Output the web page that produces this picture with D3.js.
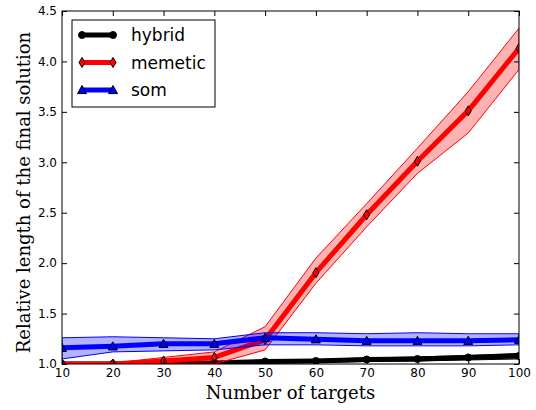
<!DOCTYPE html>
<html>
<head>
<meta charset="utf-8">
<script src="https://cdn.jsdelivr.net/npm/d3@7"></script>
<style>
  html, body { margin: 0; padding: 0; background: #fff; }
  svg { display: block; }
</style>
</head>
<body>
<svg id="chart" width="536" height="410"></svg>
<script>
// Number of targets
const targets = [10, 20, 30, 40, 50, 60, 70, 80, 90, 100];

// Mean relative length per algorithm, with lower / upper band
const hybridMean  = [1.00, 1.00, 1.005, 1.01, 1.025, 1.03, 1.045, 1.05, 1.065, 1.08];
const hybridLow   = [1.00, 1.00, 1.00, 1.00, 1.01, 1.015, 1.025, 1.03, 1.04, 1.05];
const hybridHigh  = [1.005, 1.01, 1.015, 1.02, 1.035, 1.045, 1.06, 1.07, 1.085, 1.105];

const memeticMean = [1.00, 1.00, 1.03, 1.065, 1.24, 1.905, 2.48, 3.01, 3.51, 4.13];
const memeticLow  = [1.00, 1.00, 1.00, 1.00, 1.14, 1.80, 2.36, 2.89, 3.29, 3.92];
const memeticHigh = [1.00, 1.01, 1.065, 1.12, 1.37, 2.05, 2.59, 3.14, 3.70, 4.33];

const somMean     = [1.16, 1.175, 1.20, 1.20, 1.26, 1.245, 1.23, 1.23, 1.23, 1.24];
const somLow      = [1.05, 1.12, 1.13, 1.14, 1.19, 1.19, 1.18, 1.18, 1.18, 1.19];
const somHigh     = [1.26, 1.27, 1.26, 1.25, 1.31, 1.31, 1.30, 1.31, 1.30, 1.30];

const xTicks = [10, 20, 30, 40, 50, 60, 70, 80, 90, 100];
const yTicks = [1.0, 1.5, 2.0, 2.5, 3.0, 3.5, 4.0, 4.5];

const seriesNames = ["hybrid", "memetic", "som"];

const series = [
  { name: seriesNames[0], mean: hybridMean, low: hybridLow, high: hybridHigh,
    color: "#000000", fill: "rgba(0,0,0,0.3)", marker: "circle" },
  { name: seriesNames[1], mean: memeticMean, low: memeticLow, high: memeticHigh,
    color: "#ff0000", fill: "rgba(255,0,0,0.3)", marker: "thin_diamond" },
  { name: seriesNames[2], mean: somMean, low: somLow, high: somHigh,
    color: "#0000ff", fill: "rgba(0,0,255,0.3)", marker: "triangle" }
];

const margin = { left: 62, right: 17, top: 11, bottom: 46 };
const W = 536, H = 410;
const iw = W - margin.left - margin.right;
const ih = H - margin.top - margin.bottom;

const svg = d3.select("#chart");
const g = svg.append("g").attr("transform", `translate(${margin.left},${margin.top})`);

const x = d3.scaleLinear().domain([10, 100]).range([0, iw]);
const y = d3.scaleLinear().domain([1.0, 4.5]).range([ih, 0]);

svg.append("defs").append("clipPath").attr("id", "plotClip")
  .append("rect").attr("x", 0).attr("y", 0).attr("width", iw).attr("height", ih);

const plot = g.append("g").attr("clip-path", "url(#plotClip)");

function markerPath(type, cx, cy) {
  if (type === "circle") {
    const r = 3.5;
    return `M${cx - r},${cy}a${r},${r} 0 1,0 ${2 * r},0a${r},${r} 0 1,0 ${-2 * r},0Z`;
  }
  if (type === "thin_diamond") {
    const w = 3, h = 5;
    return `M${cx},${cy - h}L${cx + w},${cy}L${cx},${cy + h}L${cx - w},${cy}Z`;
  }
  // triangle up
  const s = 4.5;
  return `M${cx},${cy - s}L${cx + s},${cy + s * 0.8}L${cx - s},${cy + s * 0.8}Z`;
}

series.forEach(s => {
  const pts = targets.map((t, i) => ({ t, m: s.mean[i], lo: s.low[i], hi: s.high[i] }));

  const area = d3.area().x(d => x(d.t)).y0(d => y(d.lo)).y1(d => y(d.hi));
  plot.append("path").datum(pts)
    .attr("d", area)
    .attr("fill", s.fill)
    .attr("stroke", s.color)
    .attr("stroke-width", 1);

  const line = d3.line().x(d => x(d.t)).y(d => y(d.m));
  plot.append("path").datum(pts)
    .attr("d", line)
    .attr("fill", "none")
    .attr("stroke", s.color)
    .attr("stroke-width", 5)
    .attr("stroke-linejoin", "round");

  plot.selectAll(null).data(pts).enter().append("path")
    .attr("d", d => markerPath(s.marker, x(d.t), y(d.m)))
    .attr("fill", s.color)
    .attr("stroke", "#000")
    .attr("stroke-width", 1);
});

// Axes with inward ticks on all sides
const tickLen = 5;
const axisFont = "DejaVu Sans, sans-serif";

const xb = g.append("g").attr("transform", `translate(0,${ih})`)
  .call(d3.axisBottom(x).tickValues(xTicks).tickSize(-tickLen).tickPadding(4).tickFormat(d3.format("d")));
const xt = g.append("g")
  .call(d3.axisTop(x).tickValues(xTicks).tickSize(-tickLen).tickFormat(""));
const yl = g.append("g")
  .call(d3.axisLeft(y).tickValues(yTicks).tickSize(-tickLen).tickPadding(5).tickFormat(d3.format(".1f")));
const yr = g.append("g").attr("transform", `translate(${iw},0)`)
  .call(d3.axisRight(y).tickValues(yTicks).tickSize(-tickLen).tickFormat(""));

[xb, xt, yl, yr].forEach(a => {
  a.select(".domain").remove();
  a.selectAll(".tick line").attr("stroke", "#000").attr("stroke-width", 1);
  a.selectAll(".tick text").attr("font-family", axisFont).attr("font-size", 12).attr("fill", "#000");
});

g.append("rect").attr("x", 0).attr("y", 0).attr("width", iw).attr("height", ih)
  .attr("fill", "none").attr("stroke", "#000").attr("stroke-width", 1);

// Axis titles
const serif = "DejaVu Serif, serif";
svg.append("text")
  .attr("x", margin.left + iw / 2).attr("y", 399)
  .attr("text-anchor", "middle")
  .attr("font-family", serif).attr("font-size", 18).attr("fill", "#000")
  .text("Number of targets");

svg.append("text")
  .attr("transform", `translate(30,${margin.top + ih / 2 + 5}) rotate(-90)`)
  .attr("text-anchor", "middle")
  .attr("font-family", serif).attr("font-size", 18).attr("fill", "#000")
  .text("Relative length of the final solution");

// Legend
const lg = svg.append("g").attr("transform", "translate(72,20)");
lg.append("rect").attr("x", 0).attr("y", 0).attr("width", 143).attr("height", 87)
  .attr("fill", "#fff").attr("stroke", "#000").attr("stroke-width", 1);
series.forEach((s, i) => {
  const cy = 15 + i * 27.5;
  lg.append("line").attr("x1", 10).attr("x2", 41).attr("y1", cy).attr("y2", cy)
    .attr("stroke", s.color).attr("stroke-width", 5);
  [10, 41].forEach(cx => {
    lg.append("path").attr("d", markerPath(s.marker, cx, cy))
      .attr("fill", s.color).attr("stroke", "#000").attr("stroke-width", 1);
  });
  lg.append("text").attr("x", 59).attr("y", cy + 6)
    .attr("font-family", axisFont).attr("font-size", 17).attr("fill", "#000")
    .text(s.name);
});
</script>
</body>
</html>
